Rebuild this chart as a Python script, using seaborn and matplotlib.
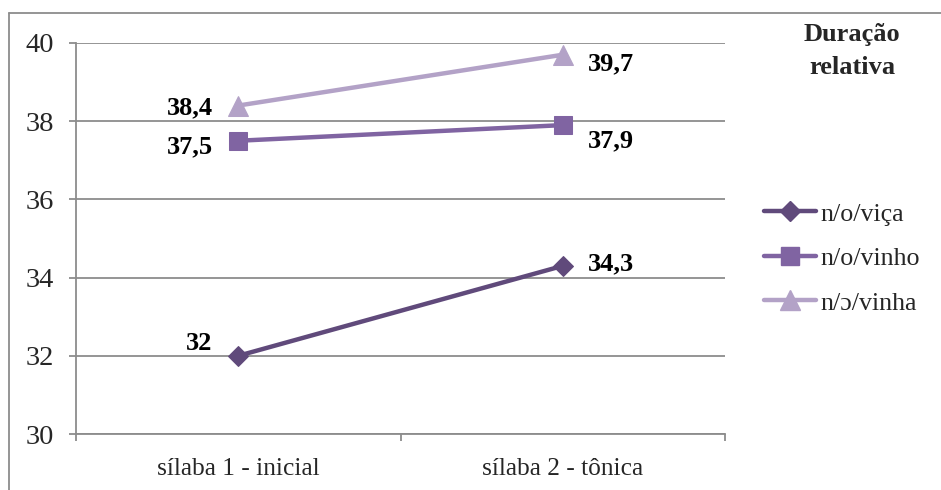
import matplotlib
matplotlib.use("Agg")
import matplotlib.pyplot as plt
import seaborn as sns
import pandas as pd
from matplotlib.lines import Line2D

categories = ["sílaba 1 - inicial", "sílaba 2 - tônica"]
series_names = ["n/o/viça", "n/o/vinho", "n/ɔ/vinha"]
vica = [32.0, 34.3]
vinho = [37.5, 37.9]
vinha = [38.4, 39.7]
label_text = {"n/o/viça": ["32", "34,3"], "n/o/vinho": ["37,5", "37,9"], "n/ɔ/vinha": ["38,4", "39,7"]}
title_text = "Duração\nrelativa"

colors = {"n/o/viça": "#604A7B", "n/o/vinho": "#8064A2", "n/ɔ/vinha": "#B3A2C7"}
markers = {"n/o/viça": "D", "n/o/vinho": "s", "n/ɔ/vinha": "^"}
msize = {"n/o/viça": 10.5, "n/o/vinho": 13.5, "n/ɔ/vinha": 14}

rows = []
for name, vals in zip(series_names, [vica, vinho, vinha]):
    for c, v in zip(categories, vals):
        rows.append({"cat": c, "val": v, "series": name})
df = pd.DataFrame(rows)

sns.set_theme(style="white")
plt.rcParams["font.family"] = ["Liberation Serif", "DejaVu Serif"]

fig = plt.figure(figsize=(9.41, 4.90), dpi=100)
ax = fig.add_axes([76 / 941, 56 / 490, 649 / 941, 391 / 490])

LW = 3.2
for name in series_names:
    sub = df[df.series == name]
    sns.lineplot(data=sub, x="cat", y="val", ax=ax, color=colors[name], linewidth=LW,
                 marker=markers[name], markersize=msize[name], markeredgecolor=colors[name],
                 label=name, legend=False)

ax.set_xlim(-0.5, 1.5)
ax.set_ylim(30, 40)
ax.set_yticks([30, 32, 34, 36, 38, 40])
ax.set_xticks([0, 1])
ax.set_xticklabels(categories)
ax.set_xticks([-0.5, 0.5, 1.5], minor=True)
ax.set_xlabel("")
ax.set_ylabel("")
ax.yaxis.grid(True, color="#8C8C8C", linewidth=1.3)
ax.set_axisbelow(True)
for s in ["top", "right"]:
    ax.spines[s].set_visible(False)
for s in ["left", "bottom"]:
    ax.spines[s].set_color("#8C8C8C")
    ax.spines[s].set_linewidth(1.3)
ax.tick_params(axis="y", which="major", length=5, width=1.3, color="#8C8C8C",
               labelsize=20.5, pad=11, left=True)
ax.tick_params(axis="x", which="major", length=0, labelsize=18.3, pad=17)
ax.tick_params(axis="x", which="minor", length=5, width=1.3, color="#8C8C8C", bottom=True)

offsets = {
    ("n/ɔ/vinha", 0): (-25, -2, "right"),
    ("n/o/vinho", 0): (-25, -6, "right"),
    ("n/o/viça", 0): (-26, 12, "right"),
    ("n/ɔ/vinha", 1): (25, -9, "left"),
    ("n/o/vinho", 1): (25, -16, "left"),
    ("n/o/viça", 1): (25, 2, "left"),
}
for name, vals in zip(series_names, [vica, vinho, vinha]):
    for i, v in enumerate(vals):
        dx, dy, ha = offsets[(name, i)]
        ax.annotate(label_text[name][i], (i, v), xytext=(dx, dy), textcoords="offset pixels",
                    ha=ha, va="center", fontsize=19, fontweight="bold", color="black")

handles = [Line2D([], [], color=colors[n], linewidth=LW, marker=markers[n],
                  markersize=msize[n], markeredgecolor=colors[n]) for n in series_names]
leg = fig.legend(handles, series_names, loc="upper left", bbox_to_anchor=(754 / 941, 1 - 192 / 490),
                 frameon=False, fontsize=18.7, handlelength=2.0, handletextpad=0.15,
                 labelspacing=0.82, borderaxespad=0)

fig.text(852 / 941, 1 - 51 / 490, title_text, ha="center", va="center", fontsize=19,
         fontweight="bold", linespacing=1.5)

fig.add_artist(Line2D([9 / 941, 1.0], [1 - 13 / 490, 1 - 13 / 490], color="#8C8C8C", linewidth=1.3,
                      transform=fig.transFigure))
fig.add_artist(Line2D([9 / 941, 9 / 941], [0, 1 - 13 / 490], color="#8C8C8C", linewidth=1.3,
                      transform=fig.transFigure))

fig.savefig("out.png", dpi=100)
